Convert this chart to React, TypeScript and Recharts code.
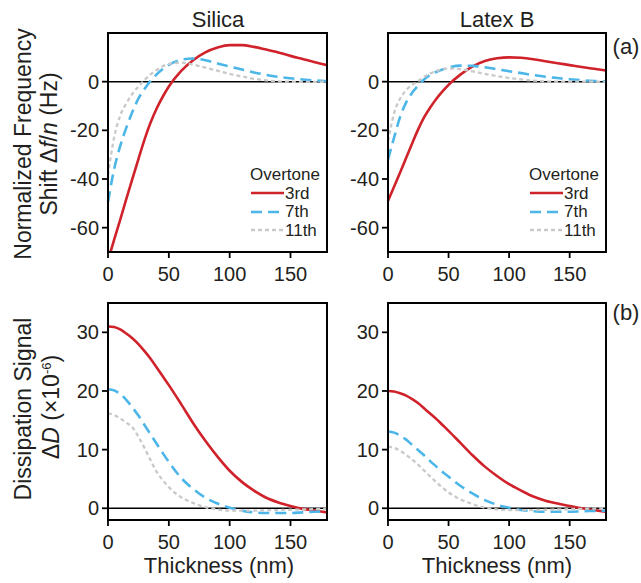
import React from 'react';
import {
  LineChart,
  Line,
  XAxis,
  YAxis,
  ReferenceLine,
  ReferenceArea,
  Legend,
} from 'recharts';

const FONT = '"Liberation Sans", Arial, sans-serif';
const INK = '#231f20';

// thickness grid (nm), shared by every curve
const thickness = [0, 5, 10, 15, 20, 25, 30, 35, 40, 45, 50, 60, 70, 80, 90, 100, 110, 120, 130, 140, 150, 160, 170, 180];

// normalized frequency shift, Silica
const silicaFreq3 = [-73.5, -65, -56.8, -48.3, -40, -31.8, -23.8, -16.8, -11, -6.2, -2, 4.3, 8.8, 12, 14, 15, 15, 14.3, 13.2, 12, 10.6, 9.3, 8, 6.8];
const silicaFreq7 = [-49.5, -36, -26.5, -19, -12.5, -7, -3, 0.3, 3, 5.2, 6.9, 9, 9.5, 8.8, 7.5, 6.2, 5, 3.8, 2.8, 2, 1.4, 0.9, 0.5, 0.2];
const silicaFreq11 = [-38.5, -23, -14, -9, -5, -2, 0.7, 3, 4.8, 6.3, 7.3, 7.8, 7, 5.8, 4.5, 3.2, 2.2, 1.2, 0.5, 0.1, 0, -0.1, -0.1, 0];

// normalized frequency shift, Latex B
const latexFreq3 = [-49, -43.2, -37.3, -31.3, -25.3, -19.5, -14.5, -10.5, -7, -4, -1.3, 3, 6.3, 8.5, 9.6, 10, 9.8, 9.2, 8.4, 7.6, 6.8, 6, 5.3, 4.6];
const latexFreq7 = [-32, -23, -14.5, -8.5, -4.5, -1.5, 1, 2.8, 4.1, 5, 5.8, 6.6, 6.5, 5.9, 5.1, 4.3, 3.5, 2.7, 2, 1.5, 1, 0.6, 0.3, 0.1];
const latexFreq11 = [-24.5, -13, -7, -3.5, -1.3, 0.3, 2, 3.4, 4.4, 5.1, 5.4, 5.1, 4.2, 3.2, 2.3, 1.5, 0.9, 0.4, 0.1, 0, 0, 0, 0, 0];

// dissipation signal, Silica
const silicaDiss3 = [31, 30.9, 30.5, 29.8, 29, 28, 26.8, 25.5, 24, 22.5, 21, 17.8, 14.5, 11.5, 8.8, 6.4, 4.5, 3, 1.8, 1, 0.4, -0.1, -0.4, -0.7];
const silicaDiss7 = [20.3, 20.1, 19.5, 18.5, 17.2, 15.8, 14.2, 12.6, 11, 9.4, 7.9, 5.2, 3.3, 1.8, 0.8, 0.1, -0.4, -0.7, -0.8, -0.8, -0.8, -0.7, -0.6, -0.5];
const silicaDiss11 = [16.2, 15.9, 15.3, 14.6, 13.8, 12.2, 10.3, 8.2, 6.2, 4.8, 3.6, 1.9, 0.9, 0.2, -0.2, -0.4, -0.4, -0.4, -0.35, -0.3, -0.25, -0.2, -0.15, -0.1];

// dissipation signal, Latex B
const latexDiss3 = [20, 19.9, 19.6, 19.2, 18.6, 17.9, 17, 16.1, 15.2, 14.2, 13.2, 11.1, 9, 7.1, 5.5, 4.1, 3, 2, 1.3, 0.8, 0.4, 0, -0.3, -0.6];
const latexDiss7 = [13.1, 12.9, 12.4, 11.7, 10.8, 9.9, 9, 8, 7.1, 6.2, 5.4, 3.8, 2.5, 1.4, 0.6, 0.1, -0.3, -0.5, -0.6, -0.6, -0.6, -0.5, -0.45, -0.4];
const latexDiss11 = [10.5, 10.3, 9.8, 9.1, 8.3, 7.4, 6.4, 5.4, 4.4, 3.5, 2.7, 1.5, 0.7, 0.1, -0.2, -0.3, -0.3, -0.3, -0.25, -0.2, -0.15, -0.1, -0.05, 0];

const xTicks = [0, 50, 100, 150];
const freqTicks = [-60, -40, -20, 0];
const dissTicks = [0, 10, 20, 30];
const overtones = ['3rd', '7th', '11th'];

const SERIES = [
  { key: 'o3', color: '#d0222b', dash: undefined, width: 2.6 },
  { key: 'o7', color: '#4cb6e8', dash: '11 6', width: 2.6 },
  { key: 'o11', color: '#c9c9c9', dash: '4 3', width: 2.3 },
];

// plot rectangles of the four panels (layout only)
const PANELS = [
  { x: 108, y: 33, w: 219, h: 219 },
  { x: 388, y: 33, w: 218, h: 219 },
  { x: 108, y: 303, w: 219, h: 217 },
  { x: 388, y: 303, w: 218, h: 217 },
];

const build = (a: number[], b: number[], c: number[]) =>
  thickness.map((t, i) => ({ t, o3: a[i], o7: b[i], o11: c[i] }));

const OvertoneLegend = ({ payload }: any) => {
  const items = [...(payload || [])].sort(
    (p: any, q: any) => SERIES.findIndex((s) => s.key === p.dataKey) - SERIES.findIndex((s) => s.key === q.dataKey)
  );
  return (
    <div style={{ fontFamily: FONT, fontSize: 17, color: INK, lineHeight: '19px' }}>
      <div>Overtone</div>
      {items.map((e: any, i: number) => {
        const s = SERIES.find((x) => x.key === e.dataKey) || SERIES[i];
        return (
          <div key={i} style={{ display: 'flex', alignItems: 'center', height: 18.5 }}>
            <svg width={34} height={10} style={{ marginLeft: 1 }}>
              <line x1={0} y1={5} x2={33} y2={5} stroke={s.color} strokeWidth={s.width} strokeDasharray={s.dash} />
            </svg>
            <span>{e.value}</span>
          </div>
        );
      })}
    </div>
  );
};

interface PanelProps {
  x: number;
  y: number;
  w: number;
  h: number;
  data: any[];
  domain: [number, number];
  ticks: number[];
  legend?: boolean;
}

const Panel: React.FC<PanelProps> = ({ x, y, w, h, data, domain, ticks, legend }) => {
  const tickStyle = { fill: INK, fontSize: 20, fontFamily: FONT };
  const axisLine = { stroke: '#000', strokeWidth: 1.8 };
  return (
    <div style={{ position: 'absolute', left: x - 60, top: y - 10, width: w + 70, height: h + 50 }}>
      <LineChart width={w + 70} height={h + 50} data={data} margin={{ top: 10, right: 10, bottom: 0, left: 0 }}>
        <XAxis
          dataKey="t"
          type="number"
          domain={[0, 180]}
          ticks={xTicks}
          height={40}
          tick={tickStyle}
          tickSize={6}
          tickMargin={9}
          axisLine={axisLine}
          tickLine={axisLine}
        />
        <YAxis
          domain={domain}
          ticks={ticks}
          allowDataOverflow
          width={60}
          tick={tickStyle}
          tickSize={6}
          tickMargin={3}
          axisLine={axisLine}
          tickLine={axisLine}
        />
        <ReferenceArea
          x1={0}
          x2={180}
          y1={domain[0]}
          y2={domain[1]}
          ifOverflow="visible"
          fill="none"
          fillOpacity={0}
          stroke="#000"
          strokeWidth={1.8}
        />
        <ReferenceLine y={0} stroke="#000" strokeWidth={1.5} />
        {SERIES.map((s, i) => (
          <Line
            key={s.key}
            type="monotone"
            dataKey={s.key}
            name={overtones[i]}
            stroke={s.color}
            strokeWidth={s.width}
            strokeDasharray={s.dash}
            dot={false}
            isAnimationActive={false}
          />
        ))}
        {legend && (
          <Legend
            layout="vertical"
            verticalAlign="middle"
            align="center"
            content={<OvertoneLegend />}
            wrapperStyle={{ left: w - 17, top: 142, width: 90 }}
          />
        )}
      </LineChart>
    </div>
  );
};

const txt = (x: number, y: number, size: number, content: React.ReactNode, rotate = false) => (
  <div
    style={{
      position: 'absolute',
      left: x,
      top: y,
      transform: `translate(-50%, -50%)${rotate ? ' rotate(-90deg)' : ''}`,
      whiteSpace: 'nowrap',
      fontFamily: FONT,
      fontSize: size,
      lineHeight: 1,
      color: INK,
    }}
  >
    {content}
  </div>
);

export default function App() {
  return (
    <div style={{ position: 'absolute', left: 0, top: 0, width: 641, height: 583, background: '#fff', overflow: 'hidden' }}>
      <Panel {...PANELS[0]} data={build(silicaFreq3, silicaFreq7, silicaFreq11)} domain={[-70, 20]} ticks={freqTicks} legend />
      <Panel {...PANELS[1]} data={build(latexFreq3, latexFreq7, latexFreq11)} domain={[-70, 20]} ticks={freqTicks} legend />
      <Panel {...PANELS[2]} data={build(silicaDiss3, silicaDiss7, silicaDiss11)} domain={[-2, 35]} ticks={dissTicks} />
      <Panel {...PANELS[3]} data={build(latexDiss3, latexDiss7, latexDiss11)} domain={[-2, 35]} ticks={dissTicks} />

      {txt(218, 20, 22, 'Silica')}
      {txt(497, 20, 22, 'Latex B')}
      {txt(626, 47, 22, '(a)')}
      {txt(626, 313, 22, '(b)')}

      {txt(23, 144, 23, 'Normalized Frequency', true)}
      {txt(49, 144, 23, <span>Shift Δ<i>f</i>/<i>n</i> (Hz)</span>, true)}
      {txt(23, 409, 23, 'Dissipation Signal', true)}
      {txt(51, 407, 23, <span>Δ<i>D</i> (×10<sup style={{ fontSize: 13, verticalAlign: '0.55em' }}>-6</sup>)</span>, true)}

      {txt(219, 566, 22, 'Thickness (nm)')}
      {txt(497, 566, 22, 'Thickness (nm)')}

      {/* box frames drawn on top of everything */}
      <svg
        width={641}
        height={583}
        style={{ position: 'absolute', left: 0, top: 0, zIndex: 10, pointerEvents: 'none' }}
      >
        {PANELS.map((p, i) => (
          <rect key={i} x={p.x} y={p.y} width={p.w} height={p.h} fill="none" stroke="#000" strokeWidth={1.8} />
        ))}
      </svg>
    </div>
  );
}
